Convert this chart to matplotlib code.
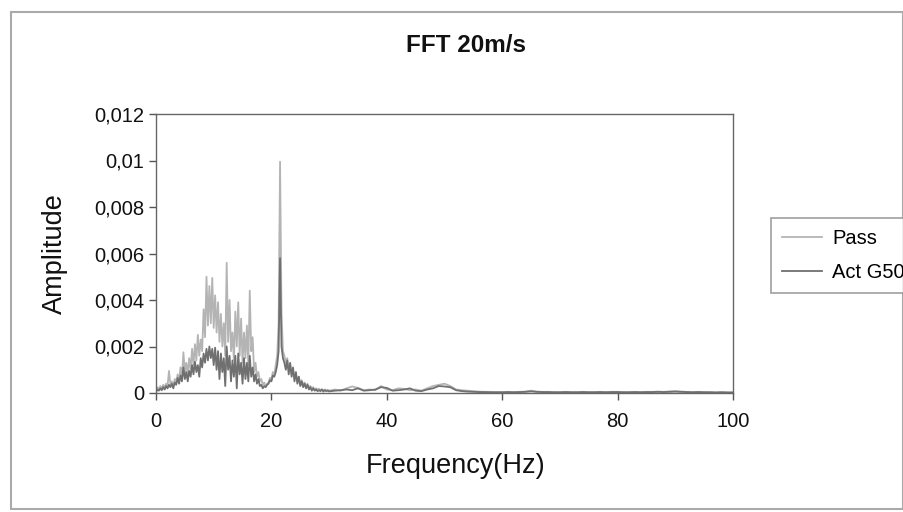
import numpy as np
import matplotlib
matplotlib.use("Agg")
import matplotlib.pyplot as plt
from matplotlib.patches import Rectangle

plt.rcParams['font.family'] = ['Liberation Sans', 'DejaVu Sans']

# frequency bins: fine below 30 Hz, coarse tail up to 100 Hz
freq_low = np.arange(0, 30.25, 0.25)
freq_tail = np.arange(31, 101, 1.0)

# amplitudes in units of 1e-3
pass_low = [
    0.10, 0.25, 0.15, 0.30, 0.20, 0.35, 0.25, 0.40, 0.30, 0.95, 0.35, 0.50,
    0.30, 0.60, 0.45, 0.80, 0.50, 1.10, 0.70, 1.75, 0.90, 1.30, 0.80, 1.50,
    1.00, 1.90, 1.20, 2.10, 1.40, 2.50, 1.60, 2.30, 1.80, 3.60, 2.40, 5.00,
    2.90, 4.60, 3.00, 4.95, 2.80, 4.20, 2.60, 3.90, 2.20, 3.40, 2.00, 3.00,
    1.60, 5.60, 2.20, 4.00, 1.80, 2.60, 1.40, 3.50, 2.00, 3.90, 1.60, 3.20,
    1.30, 2.60, 1.50, 2.90, 1.20, 4.40, 1.80, 2.40, 0.90, 1.30, 0.70, 0.90,
    0.50, 0.60, 0.35, 0.45, 0.30, 0.40, 0.45, 0.65, 0.60, 0.90, 0.80, 1.20,
    1.60, 3.00, 9.95, 3.50, 1.80, 1.60, 1.30, 1.50, 1.00, 1.20, 0.80, 1.00,
    0.60, 0.80, 0.50, 0.70, 0.40, 0.55, 0.35, 0.45, 0.30, 0.40, 0.25, 0.30,
    0.20, 0.25, 0.15, 0.20, 0.15, 0.18, 0.12, 0.16, 0.12, 0.15, 0.10, 0.14,
    0.10,
]
act_low = [
    0.05, 0.15, 0.10, 0.20, 0.12, 0.25, 0.15, 0.30, 0.20, 0.35, 0.25, 0.40,
    0.20, 0.45, 0.35, 0.65, 0.40, 0.75, 0.50, 1.10, 0.60, 0.90, 0.50, 0.95,
    0.70, 1.20, 0.80, 1.35, 0.90, 1.20, 0.70, 1.50, 1.10, 1.70, 1.30, 1.90,
    1.40, 2.00, 1.50, 1.90, 1.20, 1.95, 1.00, 1.80, 0.60, 1.70, 0.90, 1.50,
    0.30, 2.00, 1.00, 1.60, 0.50, 1.40, 0.70, 1.60, 0.20, 1.70, 0.80, 1.30,
    0.40, 1.50, 0.60, 1.30, 0.50, 1.60, 0.70, 1.10, 0.50, 0.80, 0.40, 0.60,
    0.30, 0.35, 0.20, 0.30, 0.25, 0.35, 0.40, 0.55, 0.50, 0.75, 0.70, 0.90,
    1.20, 1.80, 5.80, 2.00, 1.50, 1.30, 1.00, 1.40, 0.80, 1.30, 0.70, 1.10,
    0.50, 0.90, 0.40, 0.70, 0.30, 0.50, 0.25, 0.40, 0.20, 0.35, 0.15, 0.25,
    0.10, 0.20, 0.10, 0.15, 0.08, 0.12, 0.08, 0.15, 0.06, 0.12, 0.08, 0.10,
    0.07,
]
pass_tail = [
    0.15, 0.10, 0.20, 0.28, 0.22, 0.12, 0.15, 0.12, 0.30, 0.15,
    0.12, 0.20, 0.18, 0.12, 0.15, 0.10, 0.20, 0.30, 0.35, 0.40,
    0.30, 0.15, 0.12, 0.10, 0.08, 0.06, 0.05, 0.05, 0.04, 0.04,
    0.05, 0.04, 0.05, 0.06, 0.10, 0.06, 0.05, 0.05, 0.04, 0.04,
    0.05, 0.04, 0.04, 0.05, 0.04, 0.04, 0.05, 0.04, 0.05, 0.05,
    0.04, 0.04, 0.05, 0.04, 0.05, 0.05, 0.06, 0.05, 0.07, 0.08,
    0.06, 0.05, 0.04, 0.05, 0.04, 0.04, 0.03, 0.04, 0.03, 0.03,
]
act_tail = [
    0.10, 0.12, 0.15, 0.12, 0.20, 0.10, 0.12, 0.15, 0.25, 0.22,
    0.10, 0.12, 0.15, 0.20, 0.10, 0.08, 0.15, 0.20, 0.30, 0.28,
    0.25, 0.12, 0.08, 0.06, 0.05, 0.04, 0.04, 0.03, 0.03, 0.03,
    0.04, 0.03, 0.04, 0.05, 0.07, 0.05, 0.04, 0.04, 0.03, 0.03,
    0.04, 0.03, 0.03, 0.04, 0.03, 0.03, 0.04, 0.03, 0.04, 0.04,
    0.03, 0.03, 0.04, 0.03, 0.04, 0.04, 0.05, 0.04, 0.05, 0.06,
    0.05, 0.04, 0.03, 0.04, 0.03, 0.03, 0.02, 0.03, 0.02, 0.02,
]

y_ticks = [0, 0.002, 0.004, 0.006, 0.008, 0.01, 0.012]
y_labels = ["0", "0,002", "0,004", "0,006", "0,008", "0,01", "0,012"]
x_ticks = [0, 20, 40, 60, 80, 100]

freq = np.concatenate([freq_low, freq_tail])
pass_amp = np.array(pass_low + pass_tail) / 1000.0
act_amp = np.array(act_low + act_tail) / 1000.0

fig = plt.figure(figsize=(9.04, 5.12), dpi=100)
fig.patch.set_facecolor('white')
ax = fig.add_axes([156 / 904, 1 - 393 / 512, (733 - 156) / 904, (393 - 114) / 512])

ax.plot(freq, pass_amp, color='#b4b4b4', lw=1.3, label='Pass')
ax.plot(freq, act_amp, color='#707070', lw=1.3, label='Act G50')

ax.set_xlim(0, 100)
ax.set_ylim(0, 0.012)
ax.set_xticks(x_ticks)
ax.set_xticklabels([str(v) for v in x_ticks])
ax.set_yticks(y_ticks)
ax.set_yticklabels(y_labels)
ax.tick_params(axis='both', direction='out', length=5, width=1, colors='#555555',
               labelcolor='#111111', labelsize=14.5)
ax.tick_params(axis='x', pad=9)
for s in ax.spines.values():
    s.set_color('#666666')
    s.set_linewidth(1.0)

ax.set_xlabel("Frequency(Hz)", fontsize=19.5, color='#111111')
ax.set_ylabel("Amplitude", fontsize=19.5, color='#111111')
ax.xaxis.set_label_coords((456 - 156) / 577, (393 - 453) / 279)
ax.yaxis.set_label_coords((68 - 156) / 577, 0.5)
fig.text(466 / 904, 1 - 45 / 512, "FFT 20m/s", ha='center', va='center',
         fontsize=17.5, fontweight='bold', color='#111111')

leg = fig.legend(loc='upper left', bbox_to_anchor=(771 / 904, 1 - 218 / 512),
                 fontsize=14.5, frameon=True, fancybox=False, handlelength=2.0,
                 borderpad=0.55, labelspacing=0.75, handletextpad=0.5,
                 borderaxespad=0)
leg.get_frame().set_edgecolor('#888888')
leg.get_frame().set_linewidth(1.2)

# outer chart frame
fig.patches.append(Rectangle((11 / 904, 1 - 509 / 512), (903 - 11) / 904, (509 - 12) / 512,
                             transform=fig.transFigure, fill=False,
                             edgecolor='#aaaaaa', lw=1.5))

fig.savefig("out.png", dpi=100)
